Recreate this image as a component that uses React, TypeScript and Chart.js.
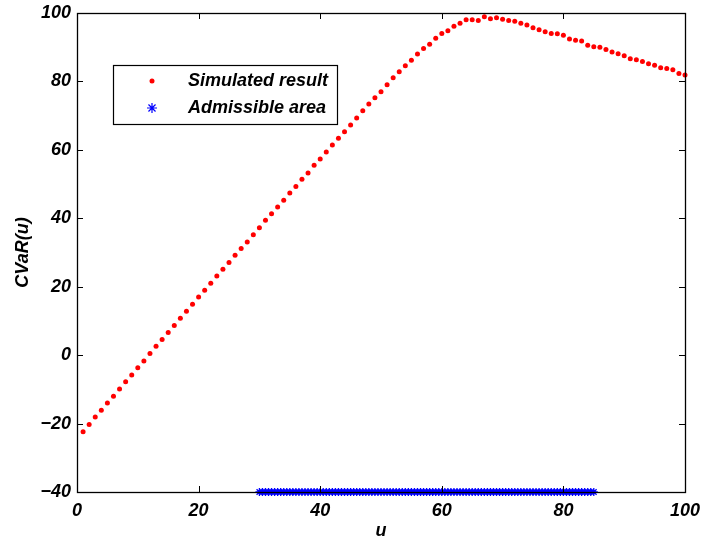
import React, { useEffect, useRef } from "react";
import { Chart, registerables } from "chart.js";

Chart.register(...registerables);

const uValues: number[] = [
  1, 2, 3, 4, 5, 6, 7, 8, 9, 10, 11, 12, 13, 14, 15, 16, 17, 18, 19, 20,
  21, 22, 23, 24, 25, 26, 27, 28, 29, 30, 31, 32, 33, 34, 35, 36, 37, 38, 39, 40,
  41, 42, 43, 44, 45, 46, 47, 48, 49, 50, 51, 52, 53, 54, 55, 56, 57, 58, 59, 60,
  61, 62, 63, 64, 65, 66, 67, 68, 69, 70, 71, 72, 73, 74, 75, 76, 77, 78, 79, 80,
  81, 82, 83, 84, 85, 86, 87, 88, 89, 90, 91, 92, 93, 94, 95, 96, 97, 98, 99, 100,
];

const cvarValues: number[] = [
  -22.4, -20.3, -18.1, -16.1, -14.0, -12.0, -9.9, -7.8, -5.8, -3.7,
  -1.7, 0.5, 2.6, 4.6, 6.6, 8.7, 10.8, 12.8, 14.9, 17.0,
  19.0, 21.0, 23.1, 25.1, 27.1, 29.2, 31.2, 33.1, 35.2, 37.2,
  39.4, 41.3, 43.3, 45.3, 47.4, 49.3, 51.4, 53.2, 55.5, 57.3,
  59.4, 61.4, 63.4, 65.3, 67.3, 69.3, 71.4, 73.4, 75.2, 77.0,
  79.0, 81.1, 82.8, 84.6, 86.2, 88.0, 89.6, 90.9, 92.6, 94.0,
  94.8, 96.1, 97.0, 98.0, 98.0, 97.8, 98.9, 98.3, 98.6, 98.2,
  97.8, 97.6, 97.0, 96.5, 95.7, 95.1, 94.5, 94.0, 93.9, 93.5,
  92.4, 92.0, 91.8, 90.6, 90.1, 90.0, 89.3, 88.6, 88.1, 87.5,
  86.6, 86.3, 85.8, 85.2, 84.7, 84.0, 83.8, 83.4, 82.3, 81.9,
];

const admissibleU: number[] = [
  30, 30.5, 31, 31.5, 32, 32.5, 33, 33.5, 34, 34.5, 35, 35.5, 36, 36.5, 37, 37.5,
  38, 38.5, 39, 39.5, 40, 40.5, 41, 41.5, 42, 42.5, 43, 43.5, 44, 44.5, 45, 45.5,
  46, 46.5, 47, 47.5, 48, 48.5, 49, 49.5, 50, 50.5, 51, 51.5, 52, 52.5, 53, 53.5,
  54, 54.5, 55, 55.5, 56, 56.5, 57, 57.5, 58, 58.5, 59, 59.5, 60, 60.5, 61, 61.5,
  62, 62.5, 63, 63.5, 64, 64.5, 65, 65.5, 66, 66.5, 67, 67.5, 68, 68.5, 69, 69.5,
  70, 70.5, 71, 71.5, 72, 72.5, 73, 73.5, 74, 74.5, 75, 75.5, 76, 76.5, 77, 77.5,
  78, 78.5, 79, 79.5, 80, 80.5, 81, 81.5, 82, 82.5, 83, 83.5, 84, 84.5, 85,
];
const admissibleLevel = -40;

const xTicks: number[] = [0, 20, 40, 60, 80, 100];
const yTicks: number[] = [-40, -20, 0, 20, 40, 60, 80, 100];

const seriesLabels = ["Simulated result", "Admissible area"];
const xTitle = "u";
const yTitle = "CVaR(u)";

const FONT_FAMILY = "'Liberation Sans', Arial, Helvetica, sans-serif";

const boxPlugin = {
  id: "matlabBox",
  afterDraw(chart: any) {
    const { ctx, chartArea } = chart;
    const { left, right, top, bottom } = chartArea;
    const xs = chart.scales.x;
    const ys = chart.scales.y;
    ctx.save();
    ctx.strokeStyle = "#000";
    ctx.lineWidth = 1;
    const tl = 6;
    ctx.beginPath();
    for (const v of xTicks) {
      const px = Math.round(xs.getPixelForValue(v)) + 0.5;
      ctx.moveTo(px, bottom);
      ctx.lineTo(px, bottom - tl);
      ctx.moveTo(px, top);
      ctx.lineTo(px, top + tl);
    }
    for (const v of yTicks) {
      const py = Math.round(ys.getPixelForValue(v)) + 0.5;
      ctx.moveTo(left, py);
      ctx.lineTo(left + tl, py);
      ctx.moveTo(right, py);
      ctx.lineTo(right - tl, py);
    }
    ctx.stroke();
    ctx.lineWidth = 1.3;
    ctx.strokeRect(Math.round(left) + 0.5, Math.round(top) + 0.5, Math.round(right - left), Math.round(bottom - top));

    // legend box
    const lx = left + 36;
    const ly = top + 52;
    const lw = 224;
    const lh = 59;
    ctx.fillStyle = "#fff";
    ctx.fillRect(lx, ly, lw, lh);
    ctx.lineWidth = 1.2;
    ctx.strokeStyle = "#000";
    ctx.strokeRect(Math.round(lx) + 0.5, Math.round(ly) + 0.5, lw, lh);

    const mx = lx + 39;
    const y1 = ly + 16;
    const y2 = ly + 43;
    ctx.fillStyle = "#ff0000";
    ctx.beginPath();
    ctx.arc(mx, y1, 2.5, 0, Math.PI * 2);
    ctx.fill();
    ctx.strokeStyle = "#0000ff";
    ctx.lineWidth = 1.2;
    const r = 5;
    ctx.beginPath();
    ctx.moveTo(mx - r, y2);
    ctx.lineTo(mx + r, y2);
    ctx.moveTo(mx, y2 - r);
    ctx.lineTo(mx, y2 + r);
    const d = r * 0.7071;
    ctx.moveTo(mx - d, y2 - d);
    ctx.lineTo(mx + d, y2 + d);
    ctx.moveTo(mx - d, y2 + d);
    ctx.lineTo(mx + d, y2 - d);
    ctx.stroke();

    ctx.fillStyle = "#000";
    ctx.font = `italic bold 18px ${FONT_FAMILY}`;
    ctx.textBaseline = "middle";
    ctx.textAlign = "left";
    ctx.fillText(seriesLabels[0], lx + 75, y1);
    ctx.fillText(seriesLabels[1], lx + 75, y2);
    ctx.restore();
  },
};

export default function App() {
  const canvasRef = useRef<HTMLCanvasElement | null>(null);

  useEffect(() => {
    document.body.style.margin = "0";
    const canvas = canvasRef.current;
    if (!canvas) return;
    const simulated = uValues.map((u, i) => ({ x: u, y: cvarValues[i] }));
    const admissible = admissibleU.map((u) => ({ x: u, y: admissibleLevel }));
    const tickFont = { family: FONT_FAMILY, size: 18, weight: "bold" as const, style: "italic" as const };

    const chart = new Chart(canvas, {
      type: "scatter",
      data: {
        datasets: [
          {
            label: seriesLabels[1],
            data: admissible,
            pointStyle: "star",
            pointRadius: 4,
            pointBorderColor: "#0000ff",
            pointBackgroundColor: "#0000ff",
            pointBorderWidth: 1.3,
            borderColor: "#0000ff",
            backgroundColor: "#0000ff",
            showLine: false,
            clip: false,
          },
          {
            label: seriesLabels[0],
            data: simulated,
            pointStyle: "circle",
            pointRadius: 2.5,
            pointBorderWidth: 0,
            pointBackgroundColor: "#ff0000",
            backgroundColor: "#ff0000",
            borderColor: "#ff0000",
            showLine: false,
            clip: false,
          },
        ],
      },
      options: {
        animation: false,
        responsive: false,
        events: [],
        layout: { padding: { left: 0, top: 13, right: 19, bottom: 0 } },
        plugins: {
          legend: { display: false },
          tooltip: { enabled: false },
        },
        scales: {
          x: {
            type: "linear",
            min: 0,
            max: 100,
            afterBuildTicks: (s: any) => {
              s.ticks = xTicks.map((v) => ({ value: v }));
            },
            afterFit: (s: any) => {
              s.height = 53;
              s.paddingLeft = 0;
              s.paddingRight = 0;
            },
            grid: { display: false, drawTicks: false },
            border: { display: false },
            ticks: { color: "#000", font: tickFont, padding: 8, maxRotation: 0 },
            title: {
              display: true,
              text: xTitle,
              color: "#000",
              font: { family: FONT_FAMILY, size: 18, weight: "bold", style: "italic" },
              padding: { top: 0, bottom: 3 },
            },
          },
          y: {
            type: "linear",
            min: -40,
            max: 100,
            afterBuildTicks: (s: any) => {
              s.ticks = yTicks.map((v) => ({ value: v }));
            },
            afterFit: (s: any) => {
              s.width = 77;
              s.paddingTop = 0;
              s.paddingBottom = 0;
            },
            grid: { display: false, drawTicks: false },
            border: { display: false },
            ticks: {
              color: "#000",
              font: tickFont,
              padding: 6,
              callback: (v: any) => (Number(v) < 0 ? "\u2212" + Math.abs(Number(v)) : String(v)),
            },
            title: {
              display: true,
              text: yTitle,
              color: "#000",
              font: { family: FONT_FAMILY, size: 18, weight: "bold", style: "italic" },
              padding: { top: 12, bottom: 0 },
            },
          },
        },
      },
      plugins: [boxPlugin],
    });
    return () => chart.destroy();
  }, []);

  return (
    <div style={{ position: "fixed", left: 0, top: 0, width: 704, height: 545, background: "#fff" }}>
      <canvas ref={canvasRef} width={704} height={545} style={{ width: 704, height: 545, display: "block" }} />
    </div>
  );
}
